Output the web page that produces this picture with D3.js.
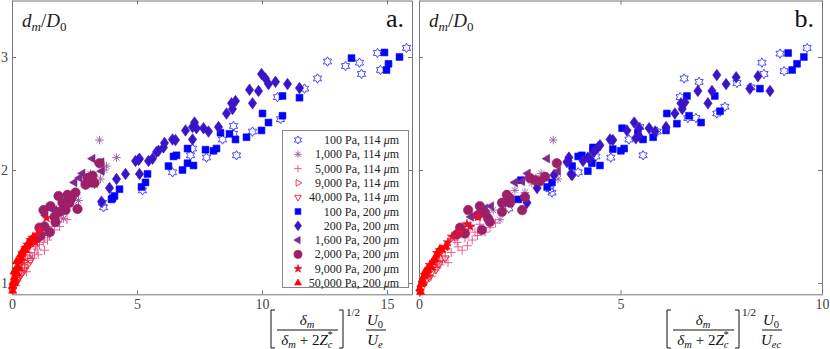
<!DOCTYPE html>
<html>
<head>
<meta charset="utf-8">
<script src="https://cdn.jsdelivr.net/npm/d3@7"></script>
<style>
  body { margin: 0; background: #fff; }
  svg { display: block; font-family: "Liberation Serif", "DejaVu Serif", serif; }
</style>
</head>
<body>
<svg id="chart" width="830" height="349"></svg>
<script>
// ---- data (x, d_m/D_0) for panel a and panel b ----
const legendLabels = [
  "100 Pa, 114", "1,000 Pa, 114", "5,000 Pa, 114", "9,000 Pa, 114", "40,000 Pa, 114",
  "100 Pa, 200", "200 Pa, 200", "1,600 Pa, 200", "2,000 Pa, 200", "9,000 Pa, 200", "50,000 Pa, 200"
];
const xTicksA = [0, 5, 10, 15];
const xTicksB = [0, 5, 10];
const yTicks = [1, 2, 3];

const hexA = [[15.78,3.08],[14.62,3.035],[13.9,2.95],[13.98,2.85],[14.74,2.885],[13.34,2.92],[12.62,2.96],[12.22,2.81],
  [11.7,2.72],[10.62,2.645],[10.74,2.45],[9.62,2.34],[8.86,2.39],[8.86,2.32],[8.42,2.27],[8.98,2.13],[7.78,2.11],
  [7.22,2.19],[7.14,2.13],[6.42,1.98],[5.22,1.82],[3.66,1.67],[3.62,1.71]];
const hexB = [[9.63,3.08],[8.96,3.03],[9.06,2.875],[8.51,2.95],[8.56,2.85],[8.24,2.73],[7.89,2.77],[6.95,2.78],[6.58,2.81],
  [6.48,2.645],[7.59,2.56],[7.39,2.5],[6.87,2.46],[6.67,2.46],[5.91,2.34],[5.48,2.38],[5.21,2.27],[4.76,2.11],[5.56,2.13],
  [4.39,2.12],[3.95,1.98],[3.25,1.83],[2.23,1.66],[3.3,1.8]];

const astA = [[3.5,2.265],[4.18,2.11],[3.78,2.035],[3.54,1.92],[3.3,1.87],[2.9,1.885],[2.66,1.73],[2.06,1.57],[3.14,1.965],[3.7,2.0]];
const astB = [[3.33,2.265],[3.03,1.97],[2.8,1.885],[3.45,1.92],[2.38,1.82],[2.63,1.8],[2.01,1.56],[1.84,1.645],[2.9,1.93]];

const plusA = [[1.54,1.44],[1.7,1.47],[1.3,1.4],[0.94,1.32],[0.9,1.265],[0.62,1.2],[1.1,1.34],[1.42,1.38],[0.7,1.27],[0.5,1.16],
  [1.18,1.45],[1.82,1.54],[1.98,1.575],[0.82,1.22],[0.38,1.115],[0.3,1.07],[1.3,1.29],[2.2,1.56],[1.6,1.5],[1.05,1.25],
  [0.58,1.1],[0.2,1.02],[1.9,1.5],[0.15,0.98],[0.45,1.2],[0.75,1.24],[1.0,1.3],[1.5,1.42],[1.25,1.36],[0.35,1.12]];
const plusB = [[1.39,1.45],[1.64,1.45],[1.14,1.4],[0.97,1.32],[0.65,1.23],[0.72,1.18],[0.4,1.115],[1.27,1.5],[1.51,1.52],
  [0.89,1.38],[1.07,1.29],[0.52,1.16],[0.22,1.045],[1.76,1.49],[1.32,1.38],[0.8,1.27],[0.3,1.06],[1.2,1.33],[0.58,1.2],[1.9,1.53],
  [0.95,1.36],[0.45,1.14],[1.45,1.42]];

const triRA = [[0.0,0.955],[0.06,1.01],[0.1,1.07],[0.18,1.035],[0.26,1.13],[0.46,1.19],[0.62,1.23],[0.34,1.1],[0.5,1.15]];
const triRB = [[0.02,0.94],[0.05,0.98],[0.12,1.045],[0.22,1.1],[0.35,1.15],[0.47,1.19],[0.3,1.12],[0.18,1.06]];

const triDA = [[0.02,0.94],[0.06,0.975],[0.14,0.99],[0.3,1.05],[0.5,1.115],[0.74,1.2],[0.22,1.03],[0.4,1.09],[0.62,1.16]];
const triDB = [[0.02,0.92],[0.1,0.975],[0.2,1.035],[0.32,1.1],[0.5,1.17],[0.65,1.22],[0.42,1.12],[0.26,1.05]];

const sqA = [[15.5,3.0],[14.9,3.04],[15.06,2.94],[14.98,2.885],[13.58,2.99],[11.5,2.64],[10.82,2.655],[10.02,2.5],[10.26,2.42],
  [10.82,2.48],[9.98,2.35],[9.38,2.29],[8.94,2.27],[8.7,2.32],[8.34,2.33],[8.18,2.19],[8.06,2.17],[7.74,2.18],[7.02,2.19],
  [6.58,2.13],[6.46,2.12],[7.02,2.06],[7.26,2.04],[6.82,2.0],[6.26,2.035],[5.42,1.965],[5.34,1.89],[5.18,1.85],[4.3,1.83],
  [4.1,1.77],[4.02,1.75],[3.98,1.74]];
const sqB = [[9.16,3.035],[9.55,3.0],[9.38,2.94],[9.26,2.885],[8.46,2.72],[7.34,2.655],[6.65,2.655],[7.47,2.52],[7.0,2.42],
  [6.4,2.41],[6.7,2.48],[6.15,2.5],[6.13,2.35],[5.81,2.29],[5.56,2.27],[5.43,2.33],[5.04,2.37],[5.09,2.19],[5.01,2.17],
  [4.81,2.185],[4.49,2.04],[4.29,2.06],[4.19,1.99],[4.04,2.13],[3.95,2.12],[4.32,2.2],[3.8,2.035],[3.3,1.89],[2.53,1.91],
  [2.46,1.74],[3.18,1.85],[4.32,2.18]];

const diaA = [[10.26,2.76],[9.86,2.7],[9.5,2.71],[9.98,2.85],[10.14,2.81],[10.54,2.78],[11.02,2.76],[11.5,2.725],[8.78,2.59],
  [8.94,2.61],[9.62,2.59],[8.58,2.5],[8.82,2.54],[7.3,2.42],[7.22,2.38],[7.38,2.37],[7.66,2.37],[7.86,2.34],[8.26,2.38],
  [6.94,2.35],[7.22,2.27],[6.42,2.27],[6.54,2.265],[6.1,2.24],[6.06,2.2],[5.86,2.17],[5.78,2.16],[5.62,2.1],[5.46,2.08],
  [5.1,2.1],[5.1,1.965],[4.94,2.08],[5.06,2.09],[4.54,1.965],[4.18,1.92],[3.9,1.84],[3.58,1.72]];
const diaB = [[7.39,2.84],[7.87,2.82],[7.62,2.76],[8.41,2.83],[8.21,2.72],[8.71,2.7],[7.27,2.7],[6.92,2.7],[7.17,2.59],[6.6,2.6],
  [6.5,2.59],[6.53,2.54],[6.35,2.5],[6.13,2.38],[5.86,2.34],[5.71,2.37],[5.46,2.37],[5.34,2.42],[5.46,2.3],[5.38,2.28],
  [5.16,2.35],[4.81,2.265],[4.74,2.27],[4.49,2.22],[4.44,2.2],[4.34,2.16],[4.19,2.11],[4.07,2.08],[3.77,1.965],[3.72,2.11],
  [3.67,2.07],[3.35,1.955],[2.68,1.71],[2.93,1.84],[3.7,2.08],[3.8,1.955],[4.24,2.1]];

const triLA = [[2.82,1.97],[2.5,1.89],[3.22,2.1],[3.58,1.99],[3.58,2.07],[1.54,1.66],[1.7,1.645],[1.34,1.6],[2.7,1.93]];
const triLB = [[3.18,2.1],[2.7,1.97],[2.38,1.89],[2.56,1.9],[1.79,1.68],[1.29,1.585],[3.45,1.99],[1.64,1.66]];

const circA = [[1.26,1.645],[1.54,1.68],[1.86,1.77],[2.02,1.71],[2.22,1.78],[2.3,1.71],[2.14,1.645],[2.54,1.8],[2.62,1.655],
  [1.7,1.585],[1.74,1.54],[1.1,1.49],[1.3,1.5],[1.5,1.45],[1.14,1.42],[1.02,1.4],[3.02,1.93],[3.1,1.89],[3.22,1.95],
  [2.94,1.87],[3.3,1.885],[3.5,2.06],[2.38,1.75],[1.9,1.63]];
const circB = [[3.42,2.06],[3.13,1.94],[3.0,1.9],[2.88,1.91],[2.63,1.76],[2.26,1.75],[2.18,1.78],[2.26,1.71],[2.06,1.71],
  [2.06,1.63],[1.51,1.68],[1.64,1.62],[1.22,1.645],[1.71,1.575],[1.76,1.54],[1.46,1.6],[1.56,1.47],[1.02,1.49],[1.14,1.44],
  [0.94,1.43],[2.56,1.645],[2.75,1.93]];

const starA = [[1.38,1.575],[1.1,1.47],[0.82,1.4],[0.54,1.31],[0.42,1.265],[0.62,1.34],[0.3,1.19],[0.18,1.115],[0.94,1.36],
  [0.74,1.38],[1.0,1.43]];
const starB = [[1.46,1.585],[0.82,1.41],[1.19,1.52],[1.27,1.5],[0.45,1.265],[0.52,1.29],[0.65,1.32],[0.27,1.16],[0.15,1.07],
  [1.0,1.45],[0.72,1.36]];

const triUA = [[0.02,0.97],[0.05,1.01],[0.1,1.05],[0.08,1.1],[0.16,1.09],[0.22,1.15],[0.18,1.19],[0.3,1.2],[0.34,1.25],
  [0.42,1.265],[0.5,1.3],[0.54,1.29],[0.62,1.33],[0.7,1.345],[0.78,1.37],[0.9,1.38],[0.12,1.02],[0.26,1.13],[0.38,1.22],
  [0.03,0.93],[0.44,1.29],[0.58,1.32],[0.66,1.36],[0.86,1.4],[0.2,1.08],[0.1,1.0]];
const triUB = [[0.02,0.95],[0.05,0.99],[0.08,1.03],[0.12,1.06],[0.15,1.1],[0.2,1.12],[0.22,1.115],[0.27,1.15],[0.32,1.18],
  [0.37,1.2],[0.42,1.24],[0.47,1.265],[0.57,1.29],[0.67,1.32],[0.1,1.0],[0.3,1.14],[0.52,1.3],[0.04,0.92],[0.18,1.08],[0.4,1.21]];

// ---- marker shapes (MATLAB-like) as d3 symbol types ----
const R = s => Math.sqrt(s) / 2;
const poly = (c, pts) => { pts.forEach((p, i) => i ? c.lineTo(p[0], p[1]) : c.moveTo(p[0], p[1])); c.closePath(); };
const tri = rot => ({ draw(c, s) {
  const r = R(s);
  poly(c, [0, 1, 2].map(i => {
    const a = rot + i * 2 * Math.PI / 3;
    return [r * Math.cos(a), r * Math.sin(a)];
  }));
}});
const shapes = {
  hexagram: { draw(c, s) {
    const r = R(s), ri = r / Math.sqrt(3);
    poly(c, d3.range(12).map(i => {
      const a = -Math.PI / 2 + i * Math.PI / 6, rr = i % 2 ? ri : r;
      return [rr * Math.cos(a), rr * Math.sin(a)];
    }));
  }},
  pentagram: { draw(c, s) {
    const r = R(s), ri = r * 0.4;
    poly(c, d3.range(10).map(i => {
      const a = -Math.PI / 2 + i * Math.PI / 5, rr = i % 2 ? ri : r;
      return [rr * Math.cos(a), rr * Math.sin(a)];
    }));
  }},
  asterisk: { draw(c, s) {
    const r = R(s);
    [0, 45, 90, 135].forEach(d => {
      const a = d * Math.PI / 180;
      c.moveTo(r * Math.cos(a), r * Math.sin(a));
      c.lineTo(-r * Math.cos(a), -r * Math.sin(a));
    });
  }},
  plus: { draw(c, s) {
    const r = R(s);
    c.moveTo(-r, 0); c.lineTo(r, 0); c.moveTo(0, -r); c.lineTo(0, r);
  }},
  square: { draw(c, s) {
    const h = R(s) * 0.8;
    poly(c, [[-h, -h], [h, -h], [h, h], [-h, h]]);
  }},
  diamond: { draw(c, s) {
    const r = R(s);
    poly(c, [[0, -r], [r * 0.72, 0], [0, r], [-r * 0.72, 0]]);
  }},
  circle: { draw(c, s) {
    const r = R(s);
    c.moveTo(r, 0); c.arc(0, 0, r, 0, 2 * Math.PI);
  }},
  triUp: tri(-Math.PI / 2),
  triDown: tri(Math.PI / 2),
  triLeft: tri(Math.PI),
  triRight: tri(0)
};

const series = [
  { shape: "hexagram", color: "#3535ff", filled: false, d: 9.5, a: hexA, b: hexB },
  { shape: "asterisk", color: "#9a58a4", filled: false, d: 8.5, a: astA, b: astB },
  { shape: "plus", color: "#e8508a", filled: false, d: 9, a: plusA, b: plusB },
  { shape: "triRight", color: "#f02a3c", filled: false, d: 9, a: triRA, b: triRB },
  { shape: "triDown", color: "#f51c22", filled: false, d: 9, a: triDA, b: triDB },
  { shape: "square", color: "#0000ff", filled: true, d: 8.5, a: sqA, b: sqB },
  { shape: "diamond", color: "#3a14c8", filled: true, d: 11.5, a: diaA, b: diaB },
  { shape: "triLeft", color: "#7c2a8c", filled: true, d: 10, a: triLA, b: triLB },
  { shape: "circle", color: "#9c1f68", filled: true, d: 9.5, a: circA, b: circB },
  { shape: "pentagram", color: "#e8102a", filled: true, d: 10, a: starA, b: starB },
  { shape: "triUp", color: "#ff0000", filled: true, d: 9.5, a: triUA, b: triUB }
];

// ---- layout ----
const svg = d3.select("#chart");
const axisColor = "#777";
const textColor = "#444";
const yScale = d3.scaleLinear().domain([0.9, 3.5]).range([294.3, 0.5]);
const panels = [
  { key: "a", x: d3.scaleLinear().domain([0, 16]).range([12, 412]), xTicks: xTicksA, yLabels: true, tag: "a.", den: "e", labX: 271 },
  { key: "b", x: d3.scaleLinear().domain([0, 10]).range([419, 822]), xTicks: xTicksB, yLabels: false, tag: "b.", den: "ec", labX: 667 }
];

const symbolPath = (s, d) => d3.symbol(shapes[s.shape], d * d)();

const styleMark = (sel, s) => sel
  .attr("fill", s.filled ? s.color : "none")
  .attr("stroke", s.color)
  .attr("stroke-width", s.filled ? 0.6 : 0.9);

panels.forEach(p => {
  const g = svg.append("g");
  const [x0, x1] = p.x.range(), [y0, y1] = yScale.range();

  g.append("rect").attr("x", x0).attr("y", y1).attr("width", x1 - x0).attr("height", y0 - y1).attr("fill", "#fff");

  const fmt = d3.format("d");
  const axes = g.append("g");
  axes.append("g").attr("transform", `translate(0,${y0})`)
    .call(d3.axisBottom(p.x).tickValues(p.xTicks).tickSize(-4).tickSizeOuter(0).tickPadding(5).tickFormat(fmt));
  axes.append("g").attr("transform", `translate(0,${y1})`)
    .call(d3.axisTop(p.x).tickValues(p.xTicks).tickSize(-4).tickSizeOuter(0).tickFormat(""));
  axes.append("g").attr("transform", `translate(${x0},0)`)
    .call(d3.axisLeft(yScale).tickValues(yTicks).tickSize(-4).tickSizeOuter(0).tickPadding(4).tickFormat(p.yLabels ? fmt : ""));
  axes.append("g").attr("transform", `translate(${x1},0)`)
    .call(d3.axisRight(yScale).tickValues(yTicks).tickSize(-4).tickSizeOuter(0).tickFormat(""));
  axes.selectAll(".domain").attr("stroke", axisColor);
  axes.selectAll(".tick line").attr("stroke", axisColor);
  axes.selectAll(".tick text").attr("fill", textColor).attr("font-size", 14)
    .attr("font-family", "'Liberation Serif', serif");

  // markers
  series.forEach(s => {
    g.append("g").selectAll("path").data(s[p.key]).join("path")
      .attr("transform", d => `translate(${p.x(d[0])},${yScale(d[1])})`)
      .attr("d", symbolPath(s, s.d))
      .call(styleMark, s);
  });

  // y label d_m / D_0
  const yl = g.append("text").attr("x", x0 + 10).attr("y", 27).attr("fill", "#222").attr("font-size", 19);
  yl.append("tspan").attr("font-style", "italic").text("d");
  yl.append("tspan").attr("font-style", "italic").attr("font-size", 13).attr("dy", 4).text("m");
  yl.append("tspan").attr("dy", -4).text("/");
  yl.append("tspan").attr("font-style", "italic").text("D");
  yl.append("tspan").attr("font-size", 13).attr("dy", 4).text("0");

  // panel tag
  g.append("text").attr("x", x1 - 8).attr("y", 27).attr("text-anchor", "end")
    .attr("font-size", 26).attr("fill", "#111").text(p.tag);

  // x label
  const lx = p.labX;
  const m = svg.append("g").attr("fill", "#111");
  const bracket = "M4,0H0V38H4";
  m.append("path").attr("d", bracket).attr("transform", `translate(${lx},310)`)
    .attr("fill", "none").attr("stroke", "#111").attr("stroke-width", 1);
  m.append("path").attr("d", bracket).attr("transform", `translate(${lx + 72},310) scale(-1,1)`)
    .attr("fill", "none").attr("stroke", "#111").attr("stroke-width", 1);
  const num = m.append("text").attr("x", lx + 36).attr("y", 325).attr("text-anchor", "middle").attr("font-size", 15);
  num.append("tspan").attr("font-style", "italic").text("δ");
  num.append("tspan").attr("font-style", "italic").attr("font-size", 10.5).attr("dy", 3).text("m");
  m.append("line").attr("x1", lx + 6).attr("x2", lx + 67).attr("y1", 330).attr("y2", 330)
    .attr("stroke", "#111").attr("stroke-width", 1);
  const den = m.append("text").attr("x", lx + 36).attr("y", 345).attr("text-anchor", "middle").attr("font-size", 15);
  den.append("tspan").attr("font-style", "italic").text("δ");
  den.append("tspan").attr("font-style", "italic").attr("font-size", 10.5).attr("dy", 3).text("m");
  den.append("tspan").attr("dy", -3).text(" + 2");
  den.append("tspan").attr("font-style", "italic").text("Z");
  den.append("tspan").attr("font-style", "italic").attr("font-size", 10.5).attr("dy", 3).text("c");
  den.append("tspan").attr("font-size", 10.5).attr("dx", -5).attr("dy", -10).text("*");
  m.append("text").attr("x", lx + 75).attr("y", 316).attr("font-size", 11).text("1/2");
  const u0 = m.append("text").attr("x", lx + 104).attr("y", 325).attr("text-anchor", "middle").attr("font-size", 15);
  u0.append("tspan").attr("font-style", "italic").text("U");
  u0.append("tspan").attr("font-size", 10.5).attr("dy", 3).text("0");
  m.append("line").attr("x1", lx + 95).attr("x2", lx + 115).attr("y1", 330).attr("y2", 330)
    .attr("stroke", "#111").attr("stroke-width", 1);
  const ue = m.append("text").attr("x", lx + 104).attr("y", 345).attr("text-anchor", "middle").attr("font-size", 15);
  ue.append("tspan").attr("font-style", "italic").text("U");
  ue.append("tspan").attr("font-style", "italic").attr("font-size", 10.5).attr("dy", 3).text(p.den);

  // legend only in panel a
  if (p.key === "a") {
    const lg = g.append("g");
    lg.append("rect").attr("x", 282.5).attr("y", 130.5).attr("width", 126).attr("height", 157)
      .attr("fill", "#fff").attr("stroke", "#888").attr("stroke-width", 1);
    series.forEach((s, i) => {
      const yy = 140 + i * 14.3;
      lg.append("path").attr("transform", `translate(298,${yy})`).attr("d", symbolPath(s, s.d * 0.85)).call(styleMark, s);
      const t = lg.append("text").attr("x", 399).attr("y", yy + 4).attr("text-anchor", "end")
        .attr("font-size", 12).attr("fill", "#222");
      t.append("tspan").text(legendLabels[i] + " ");
      t.append("tspan").attr("font-style", "italic").text("μ");
      t.append("tspan").text("m");
    });
  }
});
</script>
</body>
</html>
